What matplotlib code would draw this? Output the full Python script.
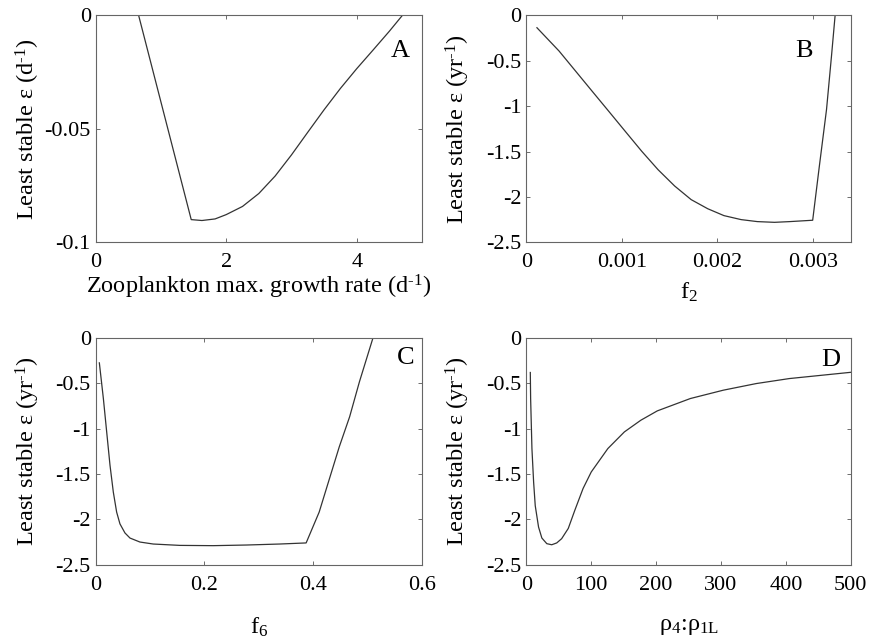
import matplotlib
matplotlib.use('Agg')
import matplotlib.pyplot as plt

plt.rcParams['font.family'] = ['Liberation Serif', 'DejaVu Serif']
plt.rcParams['mathtext.fontset'] = 'custom'
plt.rcParams['mathtext.rm'] = 'Liberation Serif'
plt.rcParams['mathtext.it'] = 'Liberation Serif:italic'
plt.rcParams['axes.unicode_minus'] = False
plt.rcParams['font.size'] = 16

# panel A : zooplankton max growth rate
a_x = [0.658, 1.464, 1.628, 1.83, 2.0, 2.25, 2.5, 2.75, 3.0, 3.25, 3.5,
       3.75, 4.0, 4.25, 4.5, 4.7]
a_y = [0.0, -0.0900, -0.0904, -0.0897, -0.0878, -0.0842, -0.0785, -0.0708, -0.0615,
       -0.0515, -0.0416, -0.0322, -0.0235, -0.0153, -0.0070, 0.0]

# panel B : f2
b_x = [0.000111, 0.000343, 0.000516, 0.000689, 0.000862, 0.001035, 0.001208, 0.00138,
       0.001554, 0.001727, 0.0019, 0.00207, 0.00225, 0.00242, 0.0026, 0.00276, 0.003,
       0.00307, 0.003145, 0.003197, 0.003235]
b_y = [-0.136, -0.393, -0.614, -0.835, -1.055, -1.276, -1.496, -1.70,
       -1.88, -2.03, -2.13, -2.206, -2.25, -2.272, -2.28, -2.272, -2.257,
       -1.66, -1.037, -0.449, 0.0]

# panel C : f6
c_x = [0.0067, 0.0141, 0.0202, 0.0263, 0.0324, 0.0385, 0.0446, 0.0538, 0.063, 0.0813,
       0.1058, 0.1547, 0.216, 0.277, 0.338, 0.387, 0.411, 0.43, 0.448, 0.467, 0.485, 0.51]
c_y = [-0.276, -0.669, -1.037, -1.404, -1.70, -1.92, -2.05, -2.15, -2.206, -2.25,
       -2.272, -2.287, -2.29, -2.283, -2.272, -2.26, -1.92, -1.55, -1.20, -0.87, -0.485, 0.0]

# panel D : rho4:rho1L
d_x = [6.1, 6.6, 8.6, 11.2, 13.7, 18.8, 23.9, 31.5, 39.1, 46.8, 54.4, 64.6, 74.7, 87.4,
       100.0, 125.6, 151.0, 176.4, 201.8, 252.7, 303.5, 354.3, 405.2, 456.0, 500.0]
d_y = [-0.382, -0.67, -1.22, -1.59, -1.85, -2.085, -2.206, -2.268, -2.28, -2.26, -2.213,
       -2.10, -1.90, -1.66, -1.478, -1.22, -1.037, -0.908, -0.805, -0.669, -0.577, -0.504,
       -0.449, -0.412, -0.38]

yt_eps = [-2.5, -2, -1.5, -1, -0.5, 0]
ytl_eps = ['-2.5', '-2', '-1.5', '-1', '-0.5', '0']

panels = [
    dict(x=a_x, y=a_y, rect=[0.110, 0.622, 0.375, 0.354], xlim=(0, 5), ylim=(-0.1, 0),
         xt=[0, 2, 4], xtl=['0', '2', '4'], yt=[-0.1, -0.05, 0], ytl=['-0.1', '-0.05', '0'],
         xl='Zooplankton max. growth rate (d$^\\text{-1}$)', yl='Least stable ε (d$^\\text{-1}$)',
         tag='A', tpos=(0.933, 0.843), xly=-0.135),
    dict(x=b_x, y=b_y, rect=[0.605, 0.622, 0.373, 0.354], xlim=(0, 0.0034), ylim=(-2.5, 0),
         xt=[0, 0.001, 0.002, 0.003], xtl=['0', '0.001', '0.002', '0.003'],
         yt=yt_eps, ytl=ytl_eps,
         xl='f$_2$', yl='Least stable ε (yr$^\\text{-1}$)', tag='B', tpos=(0.856, 0.843),
         xly=-0.17),
    dict(x=c_x, y=c_y, rect=[0.110, 0.119, 0.375, 0.354], xlim=(0, 0.6), ylim=(-2.5, 0),
         xt=[0, 0.2, 0.4, 0.6], xtl=['0', '0.2', '0.4', '0.6'],
         yt=yt_eps, ytl=ytl_eps,
         xl='f$_6$', yl='Least stable ε (yr$^\\text{-1}$)', tag='C', tpos=(0.949, 0.909),
         xly=-0.225),
    dict(x=d_x, y=d_y, rect=[0.605, 0.119, 0.373, 0.354], xlim=(0, 500), ylim=(-2.5, 0),
         xt=[0, 100, 200, 300, 400, 500], xtl=['0', '100', '200', '300', '400', '500'],
         yt=yt_eps, ytl=ytl_eps,
         xl='ρ$_4$:ρ$_\\mathrm{1L}$', yl='Least stable ε (yr$^\\text{-1}$)', tag='D',
         tpos=(0.938, 0.902), xly=-0.225),
]

fig = plt.figure(figsize=(8.7, 6.41), dpi=100)

for p in panels:
    ax = fig.add_axes(p['rect'])
    ax.plot(p['x'], p['y'], color='#333333', lw=0.9)
    ax.set_xlim(*p['xlim'])
    ax.set_ylim(*p['ylim'])
    ax.set_xticks(p['xt'])
    ax.set_xticklabels(p['xtl'])
    ax.set_yticks(p['yt'])
    ax.set_yticklabels(p['ytl'])
    ax.tick_params(direction='in', top=True, right=True, length=3, width=0.6,
                   color='#555555')
    ax.tick_params(axis='x', pad=8)
    ax.tick_params(axis='y', pad=3.5)
    for s in ax.spines.values():
        s.set_color('#666666')
        s.set_linewidth(0.8)
    ax.set_xlabel(p['xl'], fontsize=17.5)
    ax.set_ylabel(p['yl'], fontsize=17.5)
    ax.xaxis.set_label_coords(0.5, p['xly'])
    ax.yaxis.set_label_coords(-0.166, 0.5)
    ax.text(p['tpos'][0], p['tpos'][1], p['tag'], transform=ax.transAxes,
            ha='center', va='center', fontsize=19)

fig.savefig('out.png', dpi=100)
